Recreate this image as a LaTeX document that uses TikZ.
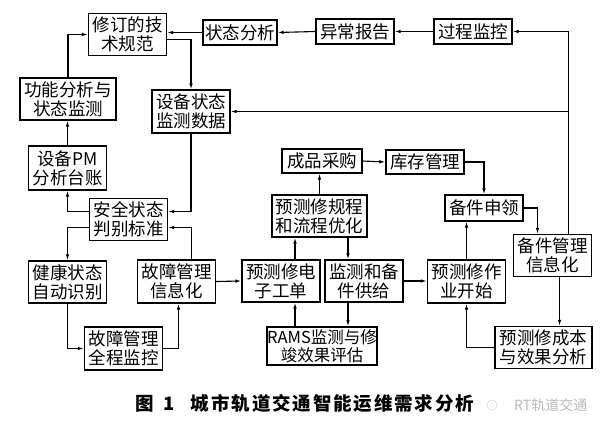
\documentclass[tikz,border=0pt]{standalone}
\usepackage{fontspec}
\newfontfamily\cjk{Noto Sans CJK SC}
\usetikzlibrary{arrows.meta}

\begin{document}
\begin{tikzpicture}[x=1pt,y=-1pt,
    blk/.style={draw=\boxbordercolor, line width=\boxborderwidth, align=center,
        inner sep=0pt, minimum width=78pt, minimum height=42pt,
        font=\cjk\fontsize{17.5}{19}\selectfont},
    arr/.style={line width=\linkwidth, -{Latex[length=6pt,width=3.6pt]}}]
        % Define box properties
        \def\boxbordercolor{black}
        \def\boxborderwidth{1.4pt}
        \def\linkwidth{1.1pt}

        \useasboundingbox (0,0) rectangle (615,444);

        % Top row
        \node[blk] (xiuding) at (127.5,34.5) {修订的技\\术规范};
        \node[blk, minimum width=74pt, minimum height=25pt] (fenxi) at (240,32.5) {状态分析};
        \node[blk, minimum height=25pt] (yichang) at (355,31.5) {异常报告};
        \node[blk, minimum height=25pt] (guocheng) at (473,31.5) {过程监控};

        % Left column
        \node[blk, minimum width=96pt] (gongneng) at (68,99) {功能分析与\\状态监测};
        \node[blk, minimum height=43pt] (sbsj) at (191,111.5) {设备状态\\监测数据};
        \node[blk, minimum height=44pt] (pm) at (67.5,168) {设备PM\\分析台账};
        \node[blk] (anquan) at (128.5,219.5) {安全状态\\判别标准};
        \node[blk] (jiankang) at (67.5,282) {健康状态\\自动识别};
        \node[blk, minimum height=43pt] (gzxx) at (176.5,281.5) {故障管理\\信息化};
        \node[blk, minimum height=43pt] (quancheng) at (123.5,348.5) {故障管理\\全程监控};

        % Middle part
        \node[blk, minimum width=80pt, minimum height=24pt] (chengpin) at (322,161) {成品采购};
        \node[blk, minimum height=24pt] (kucun) at (425,162) {库存管理};
        \node[blk, minimum width=95pt] (guicheng) at (319.5,216) {预测修规程\\和流程优化};
        \node[blk] (gongdan) at (281,281) {预测修电\\子工单};
        \node[blk] (jiance) at (364,281) {监测和备\\件供给};
        \node[blk, minimum width=110pt, minimum height=38pt, font=\cjk\fontsize{16.5}{18.5}\selectfont]
            (rams) at (322,346) {RAMS监测与修\\竣效果评估};

        % Right part
        \node[blk, minimum height=26pt] (shenling) at (484,208) {备件申领};
        \node[blk] (bjxx) at (552.5,255.5) {备件管理\\信息化};
        \node[blk, minimum height=43pt] (zuoye) at (466.5,281.5) {预测修作\\业开始};
        \node[blk, minimum width=97pt] (chengben) at (543.5,347.5) {预测修成本\\与效果分析};

        % Connectors
        \draw[arr] (fenxi.west) -- (fenxi.west -| xiuding.east);
        \draw[arr] (yichang.west) -- (fenxi.east);
        \draw[arr] (guocheng.west) -- (yichang.east);
        \coordinate (loop) at ([xshift=16pt]bjxx.north);
        \draw[arr] (loop) |- (guocheng.east);
        \draw[arr] (loop |- sbsj.east) -- (sbsj.east);
        \draw[arr] ([yshift=-5pt]xiuding.east) -| (sbsj.north);
        \draw[arr] (gongneng.north) |- (xiuding.west);
        \draw[arr] (pm.north) -- (pm.north |- gongneng.south);
        \draw[arr] ([yshift=8pt]anquan.west) -| (pm.south);
        \draw[arr] (sbsj.south) |- ([yshift=8pt]anquan.east);
        \draw[arr] ([xshift=15pt]gzxx.north) |- ([yshift=-8pt]anquan.east);
        \draw[arr] ([yshift=-8pt]anquan.west) -| (jiankang.north);
        \draw[arr] (jiankang.south) |- (quancheng.west);
        \draw[arr] (quancheng.east) -| ([xshift=2pt]gzxx.south);
        \draw[arr] (gzxx.east) -- (gongdan.west);
        \draw[arr] ([xshift=14pt]gongdan.north) -- ([xshift=14pt]gongdan.north |- guicheng.south);
        \draw[arr] ([xshift=14pt]gongdan.south |- rams.north) -- ([xshift=14pt]gongdan.south);
        \draw[arr] ([xshift=-16pt]jiance.north |- guicheng.south) -- ([xshift=-16pt]jiance.north);
        \draw[arr] ([xshift=-16pt]jiance.south) -- ([xshift=-16pt]jiance.south |- rams.north);
        \draw[arr] (guicheng.north) -- (guicheng.north |- chengpin.south);
        \draw[arr] (chengpin.east) -- (kucun.west);
        \draw[arr] (kucun.east) -| (shenling.north);
        \draw[arr] (shenling.east) -| ([xshift=-15pt]bjxx.north);
        \draw[arr] (jiance.east) -- (jiance.east -| zuoye.west);
        \draw[arr] (zuoye.north) -- (zuoye.north |- shenling.south);
        \draw[arr] ([xshift=7pt]bjxx.south) -- ([xshift=7pt]bjxx.south |- chengben.north);
        \draw[arr] (chengben.west) -| (zuoye.south);

        % Caption and mark
        \node[anchor=west, inner sep=0pt, font=\cjk\bfseries\fontsize{18.5}{20}\selectfont\addfontfeatures{LetterSpace=10}]
            (caption) at (135,403) {图\hspace{10pt}1\hspace{16pt}城市轨道交通智能运维需求分析};
        \draw[gray!45, densely dotted, line width=0.8pt] (492,405) circle (5pt);
        \node[anchor=west, inner sep=0pt, text=gray!55, font=\cjk\fontsize{14}{16}\selectfont]
            (mark) at (514,405) {RT轨道交通};
\end{tikzpicture}
\end{document}
